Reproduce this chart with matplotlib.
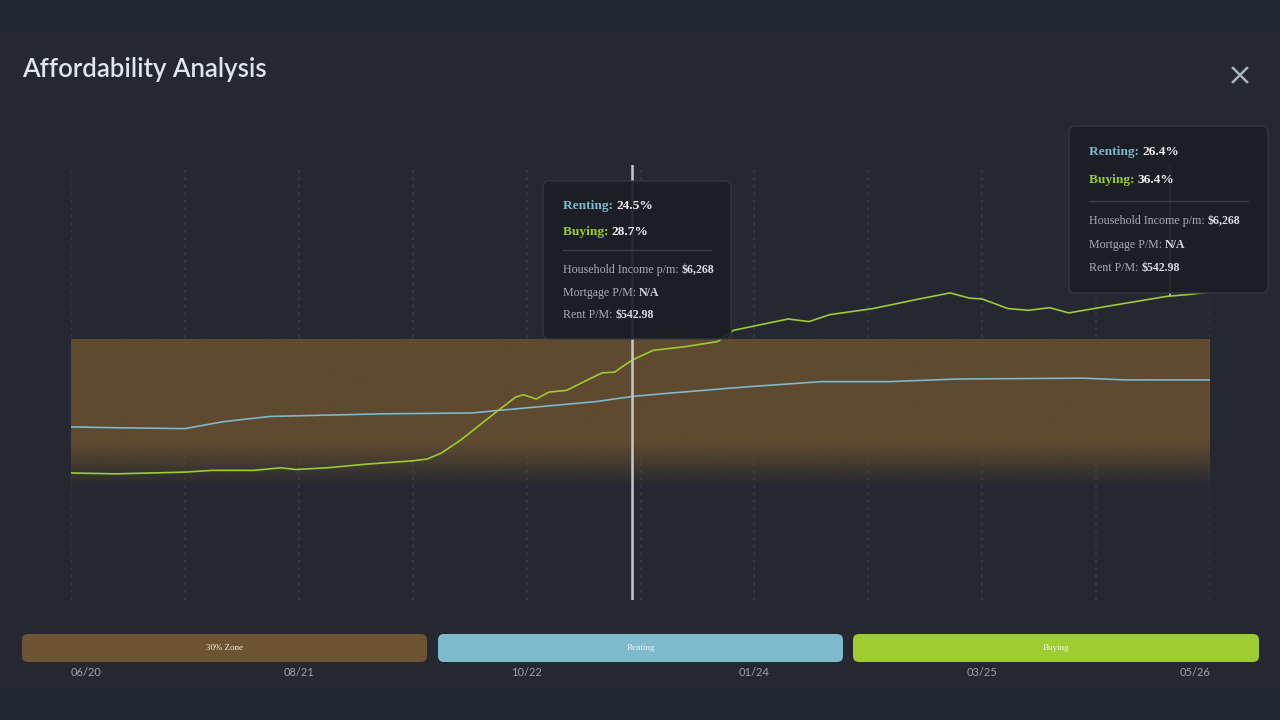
import numpy as np
import matplotlib
matplotlib.use("Agg")
import matplotlib.pyplot as plt
import matplotlib.transforms as mtransforms
from matplotlib.patches import FancyBboxPatch, Rectangle
from matplotlib.lines import Line2D

# months counted from 06/20, values in % of income
rent_month = [0, 2.8, 7.1, 9.5, 12.4, 14.8, 19.5, 25.0, 26.7, 29.1,
              32.7, 35.0, 36.8, 42.1, 46.8, 51.0, 55.2, 63.1, 65.7, 71.0]
rent_pct = [19.9, 19.8, 19.7, 20.5, 21.1, 21.2, 21.4, 21.5, 21.8, 22.2,
            22.8, 23.4, 23.7, 24.5, 25.1, 25.1, 25.4, 25.5, 25.3, 25.3]

buy_month = [0, 2.8, 7.1, 8.8, 11.4, 13.1, 14.0, 16.0, 18.3, 21.3,
             22.2, 23.1, 24.3, 26.5, 27.7, 28.2, 29.0, 29.8, 30.9, 32.2,
             33.1, 33.9, 34.2, 35.0, 36.3, 38.2, 40.3, 41.3, 44.7, 46.0,
             47.3, 50.0, 52.6, 54.8, 56.0, 56.8, 58.4, 59.7, 61.0, 62.2,
             64.4, 68.3, 69.6, 71.0]
buy_pct = [14.6, 14.5, 14.7, 14.9, 14.9, 15.2, 15.0, 15.2, 15.6, 16.0,
           16.2, 16.9, 18.4, 21.6, 23.3, 23.6, 23.1, 23.9, 24.1, 25.3,
           26.1, 26.2, 26.6, 27.6, 28.7, 29.1, 29.7, 31.0, 32.3, 32.0,
           32.8, 33.5, 34.5, 35.3, 34.7, 34.6, 33.5, 33.3, 33.6, 33.0,
           33.7, 34.9, 35.1, 35.4]

tick_labels = ["06/20", "08/21", "10/22", "01/24", "03/25", "05/26"]
n_months = 71

zone_top = 30
zone_solid = 18
zone_bottom = 13

legend_labels = ["30% Zone", "Renting", "Buying"]

hover_month = [35.0, 68.5]
hover_rent = ["24.5%", "26.4%"]
hover_buy = ["28.7%", "36.4%"]
hover_income = ["$6,268", "$6,268"]
hover_mortgage = ["N/A", "N/A"]
hover_rent_pm = ["$542.98", "$542.98"]

# colours
bg_outer = "#1f2934"
bg_panel = "#252830"
zone_col = "#5f4a30"
rent_col = "#7db9cc"
buy_col = "#9acd32"
grid_col = "#363b46"
label_col = "#9ea3aa"

W, H = 1280, 720
fig = plt.figure(figsize=(W / 100, H / 100), dpi=100)
fig.patch.set_facecolor(bg_outer)
pix = mtransforms.Affine2D().scale(1, -1).translate(0, H)

fig.add_artist(Rectangle((0, 32), W, 655, transform=pix, fc=bg_panel, ec="none", zorder=-10))

ax = fig.add_axes([71 / W, 1 - 600 / H, (1210 - 71) / W, (600 - 165) / H])
ax.set_facecolor("none")
for s in ax.spines.values():
    s.set_visible(False)
ax.set_xticks([])
ax.set_yticks([])

# dotted vertical grid
grid_x = np.linspace(0, n_months, 11)
for gx in grid_x:
    ax.axvline(gx, color=grid_col, lw=1.2, ls=(0, (1.5, 3)), zorder=0)

# 30% zone, solid at the top and fading out at the bottom
vals = np.linspace(zone_top, zone_bottom, 300)
alpha = np.clip((vals - zone_bottom) / (zone_solid - zone_bottom), 0, 1)
rgba = np.zeros((300, 1, 4))
rgba[:, 0, :3] = matplotlib.colors.to_rgb(zone_col)
rgba[:, 0, 3] = alpha
ax.imshow(rgba, extent=[0, n_months, zone_bottom, zone_top], aspect="auto",
          interpolation="bilinear", zorder=1)
ax.set_xlim(0, n_months)
ax.set_ylim(0, 50)

ax.plot(rent_month, rent_pct, color=rent_col, lw=1.2, zorder=3, solid_joinstyle="round")
ax.plot(buy_month, buy_pct, color=buy_col, lw=1.2, zorder=3, solid_joinstyle="round")

ax.axvline(hover_month[0], color="#c6c8cc", lw=1.8, zorder=4)
ax.plot([hover_month[1], hover_month[1]], [buy_pct[-2], 50], color="#c6c8cc", lw=1.2, zorder=4)

# x labels under the legend
xt = mtransforms.blended_transform_factory(ax.transData, pix)
for i, lab in enumerate(tick_labels):
    gx = grid_x[2 * i]
    ha = "left" if i == 0 else ("right" if i == len(tick_labels) - 1 else "center")
    fig.text(gx, 673, lab, transform=xt, ha=ha, va="center", color=label_col,
             fontsize=8, family="Lato")

# title and close mark
fig.text(22, 70, "Affordability Analysis", transform=pix, ha="left", va="center",
         color="#dfe5ec", fontsize=18.5, family="Lato", fontweight="semibold")
fig.add_artist(Line2D([1233, 1247], [68, 82], transform=pix, color="#a9b5c0", lw=1.8))
fig.add_artist(Line2D([1233, 1247], [82, 68], transform=pix, color="#a9b5c0", lw=1.8))

# legend boxes
leg_boxes = [(22, 427), (438, 843), (853, 1259)]
leg_cols = ["#6c5331", "#7fbacc", "#9dcd30"]
for (x0, x1), c, lab in zip(leg_boxes, leg_cols, legend_labels):
    fig.add_artist(FancyBboxPatch((x0, 634), x1 - x0, 28, transform=pix,
                                  boxstyle="round,pad=0,rounding_size=6",
                                  fc=c, ec="none", zorder=2))
    fig.text((x0 + x1) / 2, 648, lab, transform=pix, ha="center", va="center",
             color="#f2f2f2", fontsize=6.5, family="Liberation Serif", zorder=3)

renderer = fig.canvas.get_renderer()


def rich(x, y, parts):
    for txt, col, wt, sz in parts:
        t = fig.text(x, y, txt, transform=pix, ha="left", va="center", color=col,
                     fontsize=sz, fontweight=wt, family="Liberation Serif", zorder=7)
        x += t.get_window_extent(renderer).width


def tooltip(i, box, tx, rows, sep):
    x0, y0, x1, y1 = box
    fig.add_artist(FancyBboxPatch((x0, y0), x1 - x0, y1 - y0, transform=pix,
                                  boxstyle="round,pad=0,rounding_size=6",
                                  fc="#1c1e25", ec="#343944", lw=1, alpha=0.93, zorder=6))
    big, small = 9.6, 8.6
    rich(tx, rows[0], [("Renting: ", rent_col, "bold", big), (hover_rent[i], "#f0f0f0", "bold", big)])
    rich(tx, rows[1], [("Buying: ", buy_col, "bold", big), (hover_buy[i], "#f0f0f0", "bold", big)])
    fig.add_artist(Line2D([tx, sep], [rows[2], rows[2]], transform=pix, color="#3a404b", lw=1, zorder=7))
    rich(tx, rows[3], [("Household Income p/m: ", "#a9adb3", "normal", small),
                       (hover_income[i], "#d8dadd", "bold", small)])
    rich(tx, rows[4], [("Mortgage P/M: ", "#a9adb3", "normal", small),
                       (hover_mortgage[i], "#d8dadd", "bold", small)])
    rich(tx, rows[5], [("Rent P/M: ", "#a9adb3", "normal", small),
                       (hover_rent_pm[i], "#d8dadd", "bold", small)])


tooltip(0, (543, 181, 731, 339), 563, [206, 232, 250, 270, 293, 315], 711)
tooltip(1, (1069, 126, 1268, 293), 1089, [152, 180, 201, 221, 245, 268], 1248)

fig.savefig("out.png", dpi=100, facecolor=fig.get_facecolor())
